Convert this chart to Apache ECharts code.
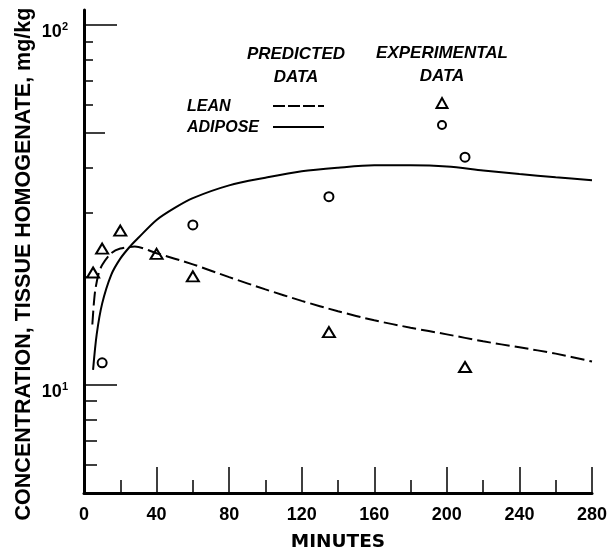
<!DOCTYPE html>
<html>
<head>
<meta charset="utf-8">
<script src="https://cdn.jsdelivr.net/npm/echarts@6/dist/echarts.min.js"></script>
<style>
  html, body { margin: 0; padding: 0; background: #fff; }
  #main { width: 613px; height: 550px; }
</style>
</head>
<body>
<div id="main"></div>
<script>
// predicted curves (minutes -> mg/kg)
let leanCurveX = [4.6, 6, 8, 10, 15, 20, 28, 40, 60, 80, 100, 120, 140, 160, 180, 200, 220, 240, 260, 280];
let leanCurveY = [14.7, 18.0, 20.3, 21.5, 23.2, 23.9, 24.2, 23.2, 21.6, 19.9, 18.4, 17.1, 16.0, 15.1, 14.4, 13.8, 13.2, 12.7, 12.2, 11.6];
let adiposeCurveX = [5, 7, 10, 15, 20, 25, 30, 40, 50, 60, 80, 100, 120, 140, 160, 180, 200, 220, 240, 260, 280];
let adiposeCurveY = [11.0, 13.8, 16.8, 20.2, 22.4, 24.1, 25.6, 28.7, 31.0, 33.0, 35.8, 37.6, 39.2, 40.1, 40.7, 40.7, 40.4, 39.4, 38.5, 37.7, 37.0];

// experimental points
let leanExpX = [5, 10, 20, 40, 60, 135, 210];
let leanExpY = [20.5, 23.9, 26.8, 23.1, 20.0, 14.0, 11.2];
let adiposeExpX = [10, 60, 135, 210];
let adiposeExpY = [11.5, 27.8, 33.3, 42.9];

// axis ticks
let yMajorTicks = [10, 100];
let yExponents = [1, 2];
let yMidTicks = [50];
let yLowTicks = [6, 7, 8, 9];
let yHighTicks = [20, 30, 40, 60, 70, 80, 90];

let font = "Liberation Sans";

function pairs(xs, ys) {
  return xs.map((x, i) => [x, ys[i]]);
}

// extra log axes that only draw ticks
function tickAxis(values, len) {
  return {
    type: "log",
    min: 5,
    max: 110,
    position: "left",
    axisLine: { show: false },
    splitLine: { show: false },
    axisLabel: { show: false },
    axisTick: { show: true, inside: true, length: len, customValues: values, lineStyle: { color: "#000", width: 1.5 } }
  };
}

let myChart = echarts.init(document.getElementById("main"));

let option = {
  animation: false,
  backgroundColor: "#fff",
  grid: { left: 84, right: 21, top: 10, bottom: 57, outerBoundsMode: "none" },
  xAxis: {
    type: "value",
    min: 0,
    max: 280,
    interval: 40,
    axisLine: { lineStyle: { color: "#000", width: 3 } },
    axisTick: { inside: true, length: 26, lineStyle: { color: "#000", width: 1.5 } },
    minorTick: { show: true, splitNumber: 2, length: 13, lineStyle: { color: "#000", width: 1.5 } },
    splitLine: { show: false },
    axisLabel: { color: "#000", fontFamily: font, fontWeight: "bold", fontSize: 18, margin: 13 },
    name: "MINUTES",
    nameLocation: "middle",
    nameGap: 40,
    nameTextStyle: { color: "#000", fontFamily: "DejaVu Sans", fontWeight: "bold", fontSize: 18.5 }
  },
  yAxis: [
    {
      type: "log",
      min: 5,
      max: 110,
      axisLine: { show: true, lineStyle: { color: "#000", width: 3 } },
      splitLine: { show: false },
      axisTick: { show: true, inside: true, length: 33, customValues: yMajorTicks, lineStyle: { color: "#000", width: 1.5 } },
      axisLabel: {
        customValues: yMajorTicks,
        margin: 16,
        padding: [14, 0, 0, 0],
        formatter: function(v) {
          let e = yExponents[yMajorTicks.indexOf(Math.round(v))];
          return "{b|10}{s|" + e + "}";
        },
        rich: {
          b: { fontFamily: font, fontWeight: "bold", fontSize: 18, color: "#000", lineHeight: 20 },
          s: { fontFamily: font, fontWeight: "bold", fontSize: 11, color: "#000", verticalAlign: "top" }
        }
      }
    },
    tickAxis(yMidTicks, 21),
    tickAxis(yLowTicks, 13),
    tickAxis(yHighTicks, 9)
  ],
  graphic: [
    { type: "text", x: 24, y: 264, rotation: Math.PI / 2,
      style: { text: "CONCENTRATION, TISSUE HOMOGENATE, mg/kg", font: "bold 21.5px " + font, fill: "#000", align: "center", verticalAlign: "middle" } },
    { type: "text", x: 296, y: 54, style: { text: "PREDICTED", font: "italic bold 17px " + font, fill: "#000", align: "center", verticalAlign: "middle" } },
    { type: "text", x: 296, y: 77, style: { text: "DATA", font: "italic bold 17px " + font, fill: "#000", align: "center", verticalAlign: "middle" } },
    { type: "text", x: 442, y: 53, style: { text: "EXPERIMENTAL", font: "italic bold 17px " + font, fill: "#000", align: "center", verticalAlign: "middle" } },
    { type: "text", x: 442, y: 76, style: { text: "DATA", font: "italic bold 17px " + font, fill: "#000", align: "center", verticalAlign: "middle" } },
    { type: "text", x: 187, y: 107, style: { text: "LEAN", font: "italic bold 16px " + font, fill: "#000", align: "left", verticalAlign: "middle" } },
    { type: "text", x: 187, y: 128, style: { text: "ADIPOSE", font: "italic bold 16px " + font, fill: "#000", align: "left", verticalAlign: "middle" } },
    { type: "line", shape: { x1: 273, y1: 106, x2: 324, y2: 106 }, style: { stroke: "#000", lineWidth: 2, lineDash: [12, 3] } },
    { type: "line", shape: { x1: 273, y1: 127, x2: 324, y2: 127 }, style: { stroke: "#000", lineWidth: 2 } },
    { type: "polygon", shape: { points: [[442, 98], [447.5, 108], [436.5, 108]] }, style: { fill: "#fff", stroke: "#000", lineWidth: 2 } },
    { type: "circle", shape: { cx: 442, cy: 125, r: 4 }, style: { fill: "#fff", stroke: "#000", lineWidth: 2 } }
  ],
  series: [
    {
      name: "LEAN predicted",
      type: "line",
      data: pairs(leanCurveX, leanCurveY),
      smooth: 0.3,
      showSymbol: false,
      lineStyle: { color: "#000", width: 2, type: [14, 5] }
    },
    {
      name: "ADIPOSE predicted",
      type: "line",
      data: pairs(adiposeCurveX, adiposeCurveY),
      smooth: 0.3,
      showSymbol: false,
      lineStyle: { color: "#000", width: 2 }
    },
    {
      name: "LEAN experimental",
      type: "scatter",
      data: pairs(leanExpX, leanExpY),
      symbol: "triangle",
      symbolSize: [12, 10],
      itemStyle: { color: "#fff", borderColor: "#000", borderWidth: 2, opacity: 1 }
    },
    {
      name: "ADIPOSE experimental",
      type: "scatter",
      data: pairs(adiposeExpX, adiposeExpY),
      symbol: "circle",
      symbolSize: 9,
      itemStyle: { color: "#fff", borderColor: "#000", borderWidth: 2, opacity: 1 }
    }
  ]
};

myChart.setOption(option);
</script>
</body>
</html>
